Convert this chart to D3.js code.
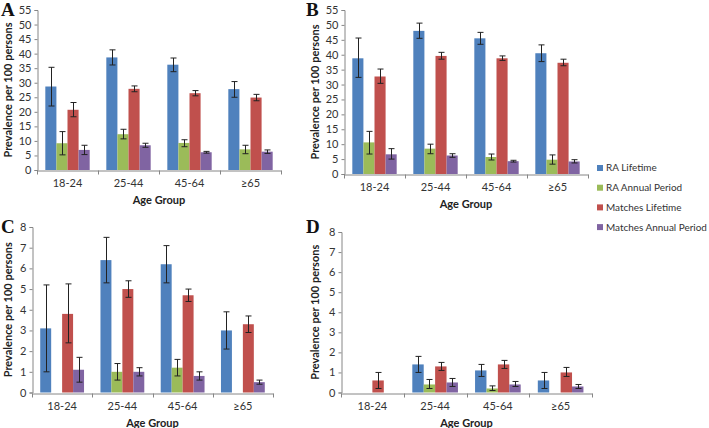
<!DOCTYPE html>
<html><head><meta charset="utf-8">
<script src="https://cdn.jsdelivr.net/npm/d3@7"></script>
<style>
body{margin:0;background:#fff;}
svg{display:block;font-family:Lato,"Open Sans",sans-serif;}
</style></head>
<body><svg id="c" width="709" height="428"></svg>
<script>
// ---------- data ----------
const ageGroups = ["18-24", "25-44", "45-64", "\u226565"];
const seriesNames = ["RA Lifetime", "RA Annual Period", "Matches Lifetime", "Matches Annual Period"];

// Panel A
const A_values = [[28.7, 38.7, 36.2, 27.8], [9.2, 12.3, 9.3, 7.1], [20.7, 27.9, 26.4, 24.9], [6.9, 8.5, 6.1, 6.3]];
const A_lower  = [[22.0, 36.1, 33.8, 25.0], [5.2, 10.7, 8.0, 5.6], [18.3, 26.9, 25.5, 23.8], [5.3, 7.8, 5.8, 5.7]];
const A_upper  = [[35.3, 41.3, 38.5, 30.4], [13.2, 14.0, 10.4, 8.5], [23.2, 28.9, 27.3, 26.0], [8.5, 9.2, 6.4, 6.9]];
// Panel B
const B_values = [[38.8, 48.0, 45.5, 40.5], [10.6, 8.5, 5.7, 4.8], [32.7, 39.6, 38.8, 37.3], [6.6, 6.2, 4.3, 4.2]];
const B_lower  = [[32.4, 45.5, 43.5, 37.7], [6.7, 6.8, 4.7, 3.3], [30.4, 38.5, 38.1, 36.3], [5.0, 5.6, 4.0, 3.7]];
const B_upper  = [[45.6, 50.6, 47.5, 43.3], [14.3, 10.0, 6.7, 6.4], [35.2, 40.8, 39.6, 38.5], [8.5, 6.8, 4.6, 4.8]];
// Panel C
const C_values = [[3.1, 6.4, 6.2, 3.0], [null, 1.0, 1.2, null], [3.8, 5.0, 4.7, 3.3], [1.1, 1.0, 0.8, 0.5]];
const C_lower  = [[1.0, 5.3, 5.3, 2.1], [null, 0.6, 0.8, null], [2.4, 4.6, 4.4, 2.9], [0.5, 0.8, 0.6, 0.4]];
const C_upper  = [[5.2, 7.5, 7.1, 3.9], [null, 1.4, 1.6, null], [5.25, 5.4, 5.0, 3.7], [1.7, 1.2, 1.0, 0.6]];
// Panel D
const D_values = [[null, 1.4, 1.1, 0.6], [null, 0.4, 0.2, null], [0.6, 1.3, 1.4, 1.0], [null, 0.5, 0.4, 0.3]];
const D_lower  = [[null, 1.0, 0.8, 0.2], [null, 0.2, 0.1, null], [0.2, 1.1, 1.2, 0.8], [null, 0.3, 0.3, 0.2]];
const D_upper  = [[null, 1.8, 1.4, 1.0], [null, 0.65, 0.33, null], [1.0, 1.5, 1.6, 1.25], [null, 0.7, 0.55, 0.4]];

const yTicksTop = d3.range(0, 56, 5);
const yTicksBottom = d3.range(0, 9, 1);

// ---------- styles / layout ----------
const colors = ["#4F81BD", "#9BBB59", "#C0504D", "#8064A2"];
const axisColor = "#868686";
const textColor = "#333";

const panels = [
  {letter: "A", vals: A_values, lo: A_lower, hi: A_upper, max: 55, ticks: yTicksTop,
   x0: 37, x1: 281, yTop: 10, yBot: 170, lx: 1, ly: 16, tx: 8},
  {letter: "B", vals: B_values, lo: B_lower, hi: B_upper, max: 55, ticks: yTicksTop,
   x0: 344, x1: 588, yTop: 10, yBot: 174, lx: 306, ly: 16, tx: 315},
  {letter: "C", vals: C_values, lo: C_lower, hi: C_upper, max: 8, ticks: yTicksBottom,
   x0: 32, x1: 273, yTop: 227, yBot: 392.5, lx: 1, ly: 233, tx: 8},
  {letter: "D", vals: D_values, lo: D_lower, hi: D_upper, max: 8, ticks: yTicksBottom,
   x0: 341, x1: 592, yTop: 232, yBot: 392.5, lx: 306, ly: 233, tx: 315}
];

const svg = d3.select("#c");

panels.forEach(p => {
  const g = svg.append("g");
  const x = d3.scaleBand().domain(ageGroups).range([p.x0, p.x1]).padding(0);
  const xs = d3.scaleBand().domain(seriesNames).range([0, x.bandwidth()]).paddingInner(0).paddingOuter(0.75);
  const y = d3.scaleLinear().domain([0, p.max]).range([p.yBot, p.yTop]);

  // bars
  seriesNames.forEach((s, si) => {
    ageGroups.forEach((a, ai) => {
      const v = p.vals[si][ai];
      if (v == null) return;
      const bx = x(a) + xs(s);
      g.append("rect")
        .attr("x", bx).attr("y", y(v))
        .attr("width", xs.bandwidth()).attr("height", y(0) - y(v))
        .attr("fill", colors[si]);
    });
  });
  // error bars
  seriesNames.forEach((s, si) => {
    ageGroups.forEach((a, ai) => {
      const v = p.vals[si][ai];
      if (v == null) return;
      const cx = Math.round(x(a) + xs(s) + xs.bandwidth() / 2) + 0.5;
      const lo = y(p.lo[si][ai]), hi = y(p.hi[si][ai]);
      const eg = g.append("g").attr("stroke", "#222").attr("stroke-width", 1);
      eg.append("line").attr("x1", cx).attr("x2", cx).attr("y1", lo).attr("y2", hi);
      eg.append("line").attr("x1", cx - 3).attr("x2", cx + 3).attr("y1", lo).attr("y2", lo);
      eg.append("line").attr("x1", cx - 3).attr("x2", cx + 3).attr("y1", hi).attr("y2", hi);
    });
  });

  // y axis
  const ya = g.append("g").attr("transform", `translate(${Math.round(p.x0) + 0.5},0)`)
    .call(d3.axisLeft(y).tickValues(p.ticks).tickSize(3).tickPadding(3).tickFormat(d3.format("d")));
  ya.select(".domain").attr("stroke", axisColor);
  ya.selectAll(".tick line").attr("stroke", axisColor);
  ya.selectAll("text").attr("fill", textColor).attr("font-size", 11).attr("font-family", "Lato, sans-serif");

  // x axis
  const xa = g.append("g").attr("transform", `translate(0,${Math.round(p.yBot) + 0.5})`)
    .call(d3.axisBottom(x).tickSize(0).tickPadding(9));
  xa.select(".domain").attr("stroke", axisColor);
  xa.selectAll("text").attr("fill", textColor).attr("font-size", 11).attr("font-family", "Lato, sans-serif");
  const bounds = ageGroups.map(a => x(a)).concat([x(ageGroups[ageGroups.length - 1]) + x.bandwidth()]);
  xa.selectAll(".bound").data(bounds).enter().append("line")
    .attr("x1", d => Math.round(d) + 0.5).attr("x2", d => Math.round(d) + 0.5)
    .attr("y1", 0).attr("y2", 4).attr("stroke", axisColor);

  // axis titles
  g.append("text")
    .attr("x", (p.x0 + p.x1) / 2).attr("y", p.yBot + 34)
    .attr("text-anchor", "middle").attr("font-weight", "bold").attr("font-size", 11)
    .attr("fill", "#222").text("Age Group");
  g.append("text")
    .attr("transform", `translate(${p.tx},${(p.yTop + p.yBot) / 2}) rotate(-90)`)
    .attr("text-anchor", "middle").attr("dy", "0.35em").attr("font-weight", "bold").attr("font-size", 11)
    .attr("fill", "#222").text("Prevalence per 100 persons");

  // panel letter
  g.append("text").attr("x", p.lx).attr("y", p.ly)
    .attr("font-family", "'Liberation Serif','DejaVu Serif',serif").attr("font-weight", "bold")
    .attr("font-size", 19).attr("fill", "#111").text(p.letter);
});

// legend
const legend = svg.append("g");
const legendX = 597, legendTextX = 606, maxTextW = 709 - 606 - 2;
const legendTexts = [];
seriesNames.forEach((s, i) => {
  const ly = 168 + i * 19.7;
  legend.append("rect").attr("x", legendX).attr("y", ly - 3).attr("width", 6).attr("height", 6).attr("fill", colors[i]);
  legendTexts.push(legend.append("text").attr("x", legendTextX).attr("y", ly).attr("dy", "0.35em")
    .attr("font-size", 11).attr("fill", textColor).text(s));
});
// shrink legend font so the longest entry fits inside the page
const widest = d3.max(legendTexts, t => t.node().getComputedTextLength());
const fs = widest > maxTextW ? 11 * maxTextW / widest : 11;
legendTexts.forEach(t => t.attr("font-size", fs));
</script>
</body></html>
